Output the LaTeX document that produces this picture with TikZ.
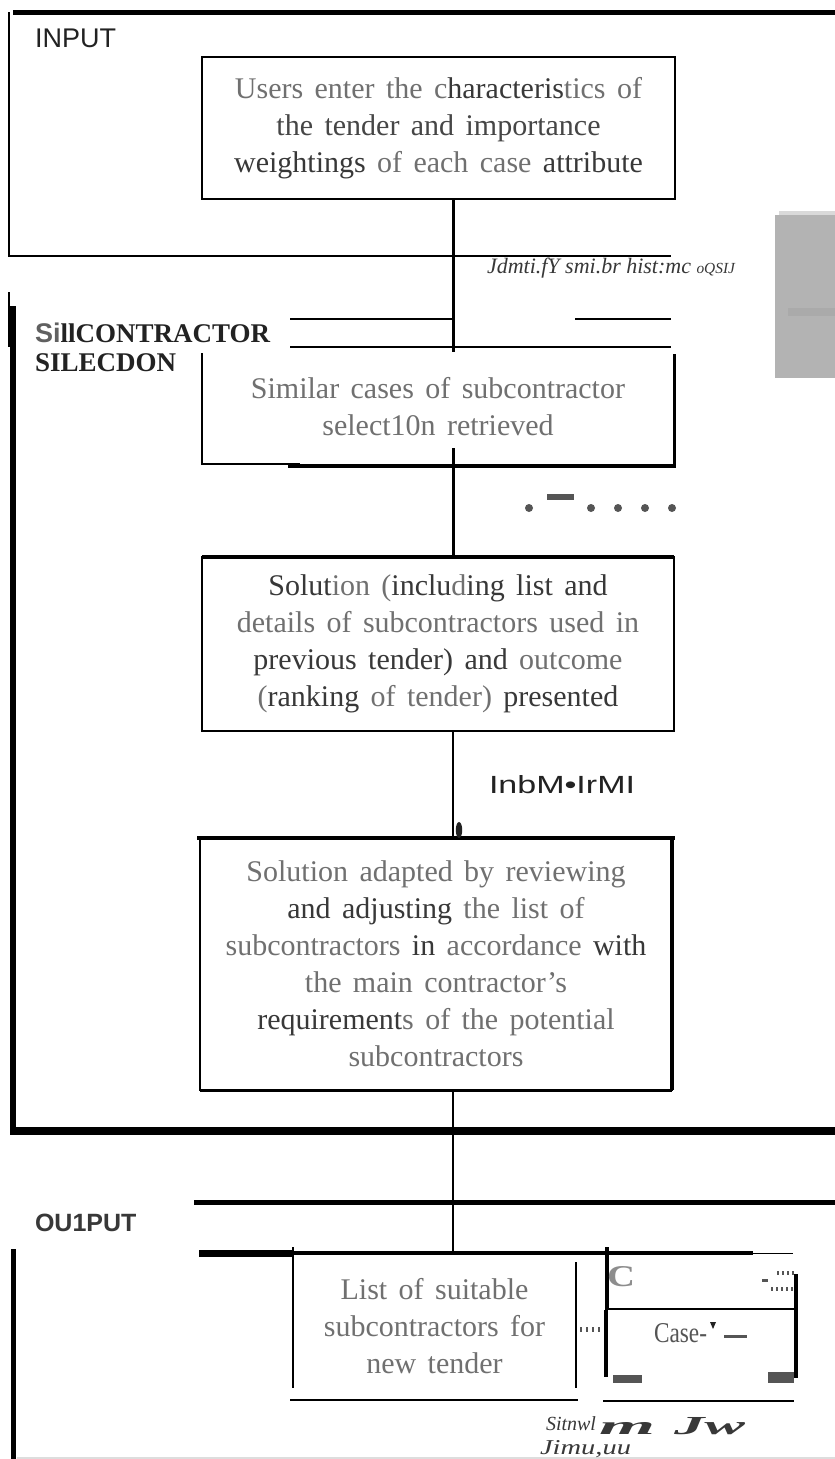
\documentclass[tikz,border=0pt]{standalone}
\usepackage{fontspec}
\setmainfont{Liberation Serif}
\newfontfamily\lsans{Liberation Sans}
\usepackage{graphicx}
\definecolor{tg}{HTML}{707070}
\definecolor{td}{HTML}{383838}
\definecolor{ink}{HTML}{222222}
\definecolor{mk}{HTML}{555555}
\definecolor{gblock}{HTML}{B3B3B3}
\definecolor{gtop}{HTML}{D9D9D9}
\definecolor{gstrip}{HTML}{AAAAAA}
\definecolor{gline}{HTML}{DDDDDD}
\newcommand\dk[1]{\textcolor{td}{#1}}
\newlength\wsp
\newcommand\boxfont{\fontsize{30}{37}\selectfont\setlength\wsp{11.4pt}\spaceskip=\wsp\relax}
\begin{document}
\begin{tikzpicture}[x=1pt,y=-1pt,
  box/.style={inner sep=0pt, outer sep=0pt, align=center, text=tg, font=\boxfont},
  lbl/.style={inner sep=0pt, outer sep=0pt, anchor=west},
  head/.style={lbl, text=ink, font=\lsans\fontsize{27}{27}\selectfont}]
\useasboundingbox (0,0) rectangle (835,1459);
\fill[white] (0,0) rectangle (835,1459);

% ---------- INPUT ----------
\draw[line width=4.5pt] (13,12.5) -- (835,12.5);
\draw[line width=1.2pt] (9,12) -- (9,256) -- (671,256);
\node[head] (inp) at (35,38) {INPUT};
\node[box, draw=black, line width=2.6pt, minimum width=473pt, minimum height=142pt] (b1) at (438.5,128)
  {\textcolor{tg}{Users enter the c}\dk{haracteris}tics of\\
   \textcolor{td!75!tg}{the tender and importance}\\
   \dk{weightings} of each case \dk{attribute}};
\coordinate (sp) at (453,0);
\draw[line width=3pt] (b1.south -| sp) -- ++(0,153);
\node[lbl, text=td, font=\fontsize{20}{20}\selectfont] (n1) at (487,268)
  {\resizebox{248pt}{!}{\itshape Jdmti.fY smi.br hist:mc {\fontsize{14}{14}\selectfont oQSIJ}}};

% grey block at right
\fill[gblock] (775,215) rectangle (835,378);
\fill[gtop] (779,211) rectangle (835,215);
\fill[gstrip] (788,308) rectangle (835,316);

% ---------- SUBCONTRACTOR SELECTION ----------
\draw[line width=1.2pt] (9,292) -- (9,347);
\draw[line width=6pt] (13,306) -- (13,1135);
\draw[line width=8pt] (10,1131) -- (835,1131);
\node[lbl, text=ink, font=\fontsize{27}{27}\selectfont\bfseries] (h2a) at (35,333)
  {\textcolor{td!80}{\lsans Si}llCONTRACTOR};
\node[lbl, text=ink, font=\fontsize{27}{27}\selectfont\bfseries] (h2b) at (35,363) {SILECDON};
\draw[line width=1.3pt] (290,319) -- (453,319);
\draw[line width=1.3pt] (575,319) -- (671,319);
\draw[line width=1.5pt] (290,347) -- (671,347);

\node[box, minimum width=472pt, minimum height=119pt] (b2) at (438,406.5)
  {Similar cases of subcontractor\\ select10n retrieved};
\draw[line width=2.6pt] (202,353) -- (202,465);
\draw[line width=3pt] (674,354) -- (674,468);
\draw[line width=2pt] (201,464) -- (300,464);
\draw[line width=3.5pt] (288,466) -- (675.5,466);

\node[box, draw=black, line width=2.4pt, minimum width=472pt, minimum height=174pt] (b3) at (438,644)
  {\dk{Solut}ion (\dk{inclu}d\dk{ing list and}\\
   details of subcontractors used in\\
   \dk{previous tender) and} outcome\\
   (\dk{ranking} of tender) \dk{presented}};
\draw[line width=3.2pt] (b3.north west) -- (b3.north east);
\draw[line width=3pt] (b3.north -| sp) -- ++(0,-109);

% dots
\foreach \xx in {529,591,618,645,672} \fill[mk] (\xx,508) circle (4pt);
\fill[mk] (547,494) rectangle (574,499.5);

\node[box, draw=black, line width=2.2pt, minimum width=472pt, minimum height=252pt] (b4) at (436,964)
  {Solution adapted by reviewing\\
   \dk{and adjusting} the list of\\
   subcontractors \dk{in} accordance \dk{with}\\
   the main contractor's\\
   \dk{requirement}s of the potential\\
   subcontractors};
\draw[line width=4.5pt] (197,838) -- (675,838);
\draw[line width=4pt] (b4.north east) -- (b4.south east);
\draw[line width=3pt] (b4.south west) -- (b4.south east);

% connector 3 with label
\draw[line width=2.5pt] (b3.south -| sp) -- (b4.north -| sp);
\fill[ink] (459,830) ellipse (3.2pt and 8pt);
\node[lbl, text=ink] (n2) at (489,785) {\resizebox{146pt}{18pt}{\lsans InbM•IrMI}};

% ---------- OUTPUT ----------
\draw[line width=5pt] (194,1202) -- (835,1202);
\node[head, font=\lsans\bfseries\fontsize{25}{25}\selectfont, text=td] (out) at (35,1223) {OU1PUT};
\draw[line width=7pt] (199,1253) -- (293,1253);
\draw[line width=3.5pt] (293,1253) -- (753,1253);
\draw[line width=1pt] (753,1253) -- (793,1253);
\draw[line width=5pt] (13,1249) -- (13,1459);
\draw[line width=1.5pt, gline] (17,1458) -- (835,1458);

\node[box, minimum width=283pt, minimum height=147pt] (b5) at (434.5,1326.5)
  {List of suitable\\ subcontractors for\\ new tender};
\draw[line width=2pt] (293,1247) -- (293,1388);
\draw[line width=2pt] (576,1262) -- (576,1388);
\draw[line width=1.5pt] (290,1400) -- (578,1400);
\foreach \xx in {581,587,593,599} \fill[mk] (\xx-1,1327) rectangle (\xx+1,1332);
\draw[line width=2pt] (b4.south -| sp) -- (b5.north -| sp);

\node[inner sep=0pt, outer sep=0pt, minimum width=190pt, minimum height=148pt] (b6) at (701,1327) {};
\draw[line width=4pt] (607,1247) -- (607,1310);
\draw[line width=3.5pt] (606,1310) -- (606,1377);
\draw[line width=1.5pt] (607,1309) -- (795,1309);
\draw[line width=4pt] (796,1274) -- (796,1378);
\draw[line width=1.5pt] (603,1401) -- (794,1401);
\node[inner sep=0pt, text=tg!80] (cc) at (621,1277) {\resizebox{28pt}{20pt}{\bfseries C}};
\fill[mk] (762,1279) rectangle (768,1281.5);
\foreach \xx in {778,783,788,793} \fill[mk] (\xx-0.8,1271) rectangle (\xx+0.8,1275);
\foreach \xx in {772,777,782,787,792} \fill[mk] (\xx-0.8,1287) rectangle (\xx+0.8,1291);
\node[lbl, text=mk] (cs) at (654,1333) {\resizebox{53pt}{19pt}{Case-}};
\fill[ink] (710,1322) -- (716,1322) -- (713,1329) -- cycle;
\fill[mk] (724,1335) rectangle (747,1337.5);
\fill[mk] (613,1375) rectangle (642,1383);
\fill[mk] (768,1372) rectangle (794,1383);

\node[lbl, text=td, font=\fontsize{20}{20}\selectfont\itshape] (s1) at (546,1424) {Sitnwl};
\node[lbl, text=td] (s2) at (599,1428) {\resizebox{56pt}{12pt}{\bfseries\itshape m}};
\node[lbl, text=td] (s3) at (674,1426) {\resizebox{71pt}{17pt}{\bfseries\itshape Jw}};
\node[lbl, text=td] (s4) at (540,1449) {\resizebox{91pt}{14pt}{\itshape Jimu,uu}};
\end{tikzpicture}
\end{document}
